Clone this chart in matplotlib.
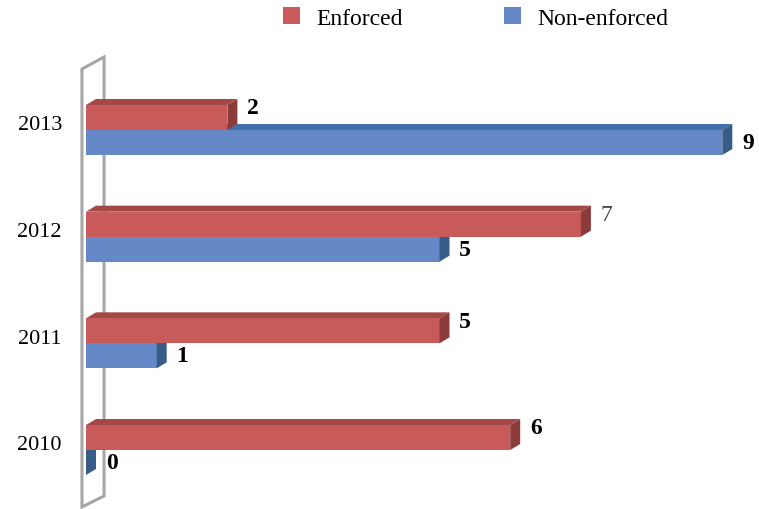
import matplotlib.pyplot as plt
from matplotlib.patches import Polygon, Patch

years = ['2010', '2011', '2012', '2013']
enforced = [6, 5, 7, 2]
non_enforced = [0, 1, 5, 9]

plt.rcParams['font.family'] = ['Liberation Serif', 'DejaVu Serif']

W, H = 759, 510
fig = plt.figure(figsize=(W / 100, H / 100), dpi=100)

# axes start at the bar origin; scale ~71 px per unit, ~107 px per year
x0_px, px_per_unit = 86, 70.7
ax = fig.add_axes([x0_px / W, 0, 1 - x0_px / W, 1])
ax.set_xlim(0, (W - x0_px) / px_per_unit)
ax.set_ylim(-0.553, 4.228)
ax.axis('off')

px_per_row = H / (4.228 + 0.553)
bar_h = 25 / px_per_row
dx = 10 / px_per_unit      # depth of the 3d effect
dy = 6 / px_per_row

red = dict(front='#C85A59', top='#A34846', side='#8C3B3B')
blue = dict(front='#6589C7', top='#426FAD', side='#375C88')


def bar3d(v, y_bot, c):
    y_top = y_bot + bar_h
    ax.add_patch(Polygon([(0, y_top), (v, y_top), (v + dx, y_top + dy), (dx, y_top + dy)],
                         closed=True, fc=c['top'], ec='none'))
    ax.barh(y_bot, v, height=bar_h, left=0, align='edge', color=c['front'], lw=0)
    ax.add_patch(Polygon([(v, y_bot), (v, y_top), (v + dx, y_top + dy), (v + dx, y_bot + dy)],
                         closed=True, fc=c['side'], ec='none'))


# back wall of the category axis
wall_l, wall_r = -0.057, 0.255
ax.add_patch(Polygon([(wall_l, -0.534), (wall_l, 3.572), (wall_r, 3.684), (wall_r, -0.431)],
                     closed=True, fill=False, ec='#A6A6A6', lw=2.2, zorder=0, clip_on=False))

for i, yr in enumerate(years):
    # blue bar sits below the red one; draw it first so red covers its top
    bar3d(non_enforced[i], i - bar_h, blue)
    bar3d(enforced[i], i, red)

    ax.annotate(str(enforced[i]), (enforced[i] + dx, i + bar_h), xytext=(7, -2),
                textcoords='offset points', ha='left', va='center', fontsize=17,
                fontweight='normal' if enforced[i] == 7 else 'bold',
                color='#444444' if enforced[i] == 7 else 'black')
    ax.annotate(str(non_enforced[i]), (non_enforced[i] + dx, i - bar_h / 2), xytext=(7, 0),
                textcoords='offset points', ha='left', va='center', fontsize=17,
                fontweight='bold')
    ax.text(-24 / px_per_unit, i + 0.05, yr, ha='right', va='center', fontsize=16,
            clip_on=False)

handles = [Patch(fc=red['front'], ec='none'), Patch(fc=blue['front'], ec='none')]
fig.legend(handles, ['Enforced', 'Non-enforced'], loc='center', bbox_to_anchor=(0.627, 0.963),
           ncol=2, frameon=False, fontsize=17, handlelength=0.7, handleheight=0.7,
           handletextpad=0.7, columnspacing=4.3)

fig.savefig('out.png', dpi=100)
